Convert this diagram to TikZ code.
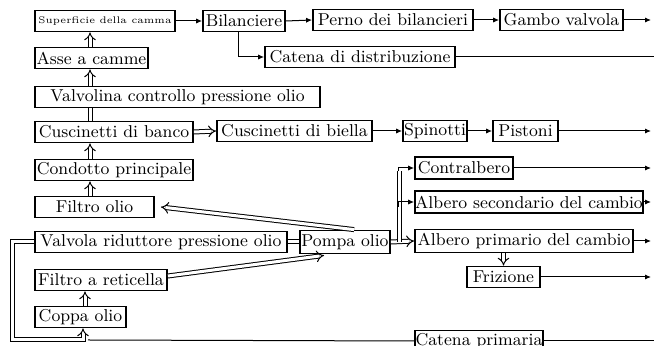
\documentclass[tikz,border=0pt]{standalone}
\usepackage{amsmath}
\usepackage{tikz}
\usetikzlibrary{arrows.meta}
\usetikzlibrary{calc}
\tikzset{
	box/.style={draw=black, line width=0.9pt, inner sep=0pt, minimum height=10.5pt,
		font=\fontsize{8.6}{10}\selectfont},
	flow/.style={draw=black, line width=0.5pt, -{Latex[length=3pt,width=2.6pt]}},
	flownoarrow/.style={draw=black, line width=0.5pt},
	oil/.style={draw=black, line width=0.5pt, double, double distance=1.5pt, -{Implies}},
	oilnoarrow/.style={draw=black, line width=0.5pt, double, double distance=1.5pt},
}
\begin{document}
\begin{tikzpicture}[x=0.5pt, y=-0.5pt]
	\useasboundingbox (0,0) rectangle (654,346);
	% left column
	\node[box, minimum width=70pt, font=\fontsize{4.8}{5}\selectfont] (sup) at (105,21) {Superficie della camma};
	\node[box, minimum width=56.5pt] (asse) at (91.5,58) {Asse a camme};
	\node[box, minimum width=142.5pt] (valvolina) at (177.5,97) {Valvolina controllo pressione olio};
	\node[box, minimum width=79pt] (cbanco) at (114,132) {Cuscinetti di banco};
	\node[box, minimum width=79pt] (condotto) at (114,170) {Condotto principale};
	\node[box, minimum width=59.5pt] (filtro) at (94.5,207) {Filtro olio};
	\node[box, minimum width=126pt] (valvola) at (161,242) {Valvola riduttore pressione olio};
	\node[box, minimum width=66pt] (reticella) at (101,280) {Filtro a reticella};
	\node[box, minimum width=45.5pt] (coppa) at (80.5,317) {Coppa olio};
	% valve gear
	\node[box, minimum width=41pt] (bil) at (244,21) {Bilanciere};
	\node[box, minimum width=80pt] (perno) at (393,20) {Perno dei bilancieri};
	\node[box, minimum width=61.5pt] (gambo) at (561.5,20) {Gambo valvola};
	\node[box, minimum width=95pt] (catdist) at (360,57) {Catena di distribuzione};
	% crank train
	\node[box, minimum width=77.5pt] (cbiella) at (294.5,131) {Cuscinetti di biella};
	\node[box, minimum width=32pt] (spin) at (435,131) {Spinotti};
	\node[box, minimum width=32.5pt] (pist) at (525.5,131) {Pistoni};
	% pump and gearbox
	\node[box, minimum width=45pt, minimum height=11.5pt] (pompa) at (345,242) {Pompa olio};
	\node[box, minimum width=49pt, minimum height=11pt] (contr) at (464,168) {Contralbero};
	\node[box, minimum width=114pt, minimum height=11pt] (asec) at (529,202) {Albero secondario del cambio};
	\node[box, minimum width=109pt, minimum height=11.5pt] (aprim) at (524,241) {Albero primario del cambio};
	\node[box, minimum width=36.5pt] (friz) at (503.5,277) {Frizione};
	\node[box, minimum width=64pt] (catprim) at (479,341) {Catena primaria};

	\coordinate (col) at (90,0);
	\coordinate (trunk) at (399,0);
	\coordinate (edge) at (651,0);
	\coordinate (loop) at (12,340);

	% oil rising to the top end
	\draw[oil] (filtro.north -| col) -- (condotto.south -| col);
	\draw[oil] (condotto.north -| col) -- (cbanco.south -| col);
	\draw[oilnoarrow] (cbanco.north -| col) -- (valvolina.south -| col);
	\draw[oil] (valvolina.north -| col) -- (asse.south -| col);
	\draw[oil] (asse.north -| col) -- (sup.south -| col);
	\draw[oil] (cbanco.east) -- (cbiella.west);
	\draw[oil] (coppa.north -| 85,0) -- (reticella.south -| 85,0);

	\draw[flow] (sup.east) -- (bil.west);
	\draw[flow] (bil.east) -- (perno.west);
	\draw[flow] (perno.east) -- (gambo.west);
	\draw[flow] (bil.south -| 238,0) |- (catdist.west);
	\draw[flow] (cbiella.east) -- (spin.west);
	\draw[flow] (spin.east) -- (pist.west);

	% pump
	\draw[oil] ($(pompa.north west)+(55,0)$) -- ($(filtro.east)+(6,0)$);
	\draw[oil] ($(reticella.east)+(0,-4)$) -- ($(pompa.south west)+(25,1)$);
	\draw[oilnoarrow] (valvola.east) -- (pompa.west);
	\draw[oil] (pompa.east) -- (aprim.west);
	\draw[oilnoarrow] (pompa.east -| trunk) -- ($(trunk |- contr)+(0,3)$);
	\draw[flow] ($(trunk |- contr)+(-1,3)$) |- (contr.west);
	\draw[flow] ($(trunk |- asec)+(-1,5)$) |- (asec.west);
	\draw[oil] (aprim.south -| friz.north) -- (friz.north);
	\draw[oil] (valvola.west) -| (loop) -| (coppa.south -| 83,0);
	\draw[flownoarrow] (catprim.west) -- (88,340);

	% back to the sump
	\draw[flow] (gambo.east) -- (edge |- gambo);
	\draw[flownoarrow] (catdist.east) -- (654,57);
	\draw[flow] (pist.east) -- (edge |- pist);
	\draw[flow] (contr.east) -- (edge |- contr);
	\draw[flow] (asec.east) -- (edge |- asec);
	\draw[flow] (aprim.east) -- (edge |- aprim);
	\draw[flow] (friz.east) -- (edge |- friz);
	\draw[flownoarrow] (catprim.east) -- (654,341);
\end{tikzpicture}
\end{document}
